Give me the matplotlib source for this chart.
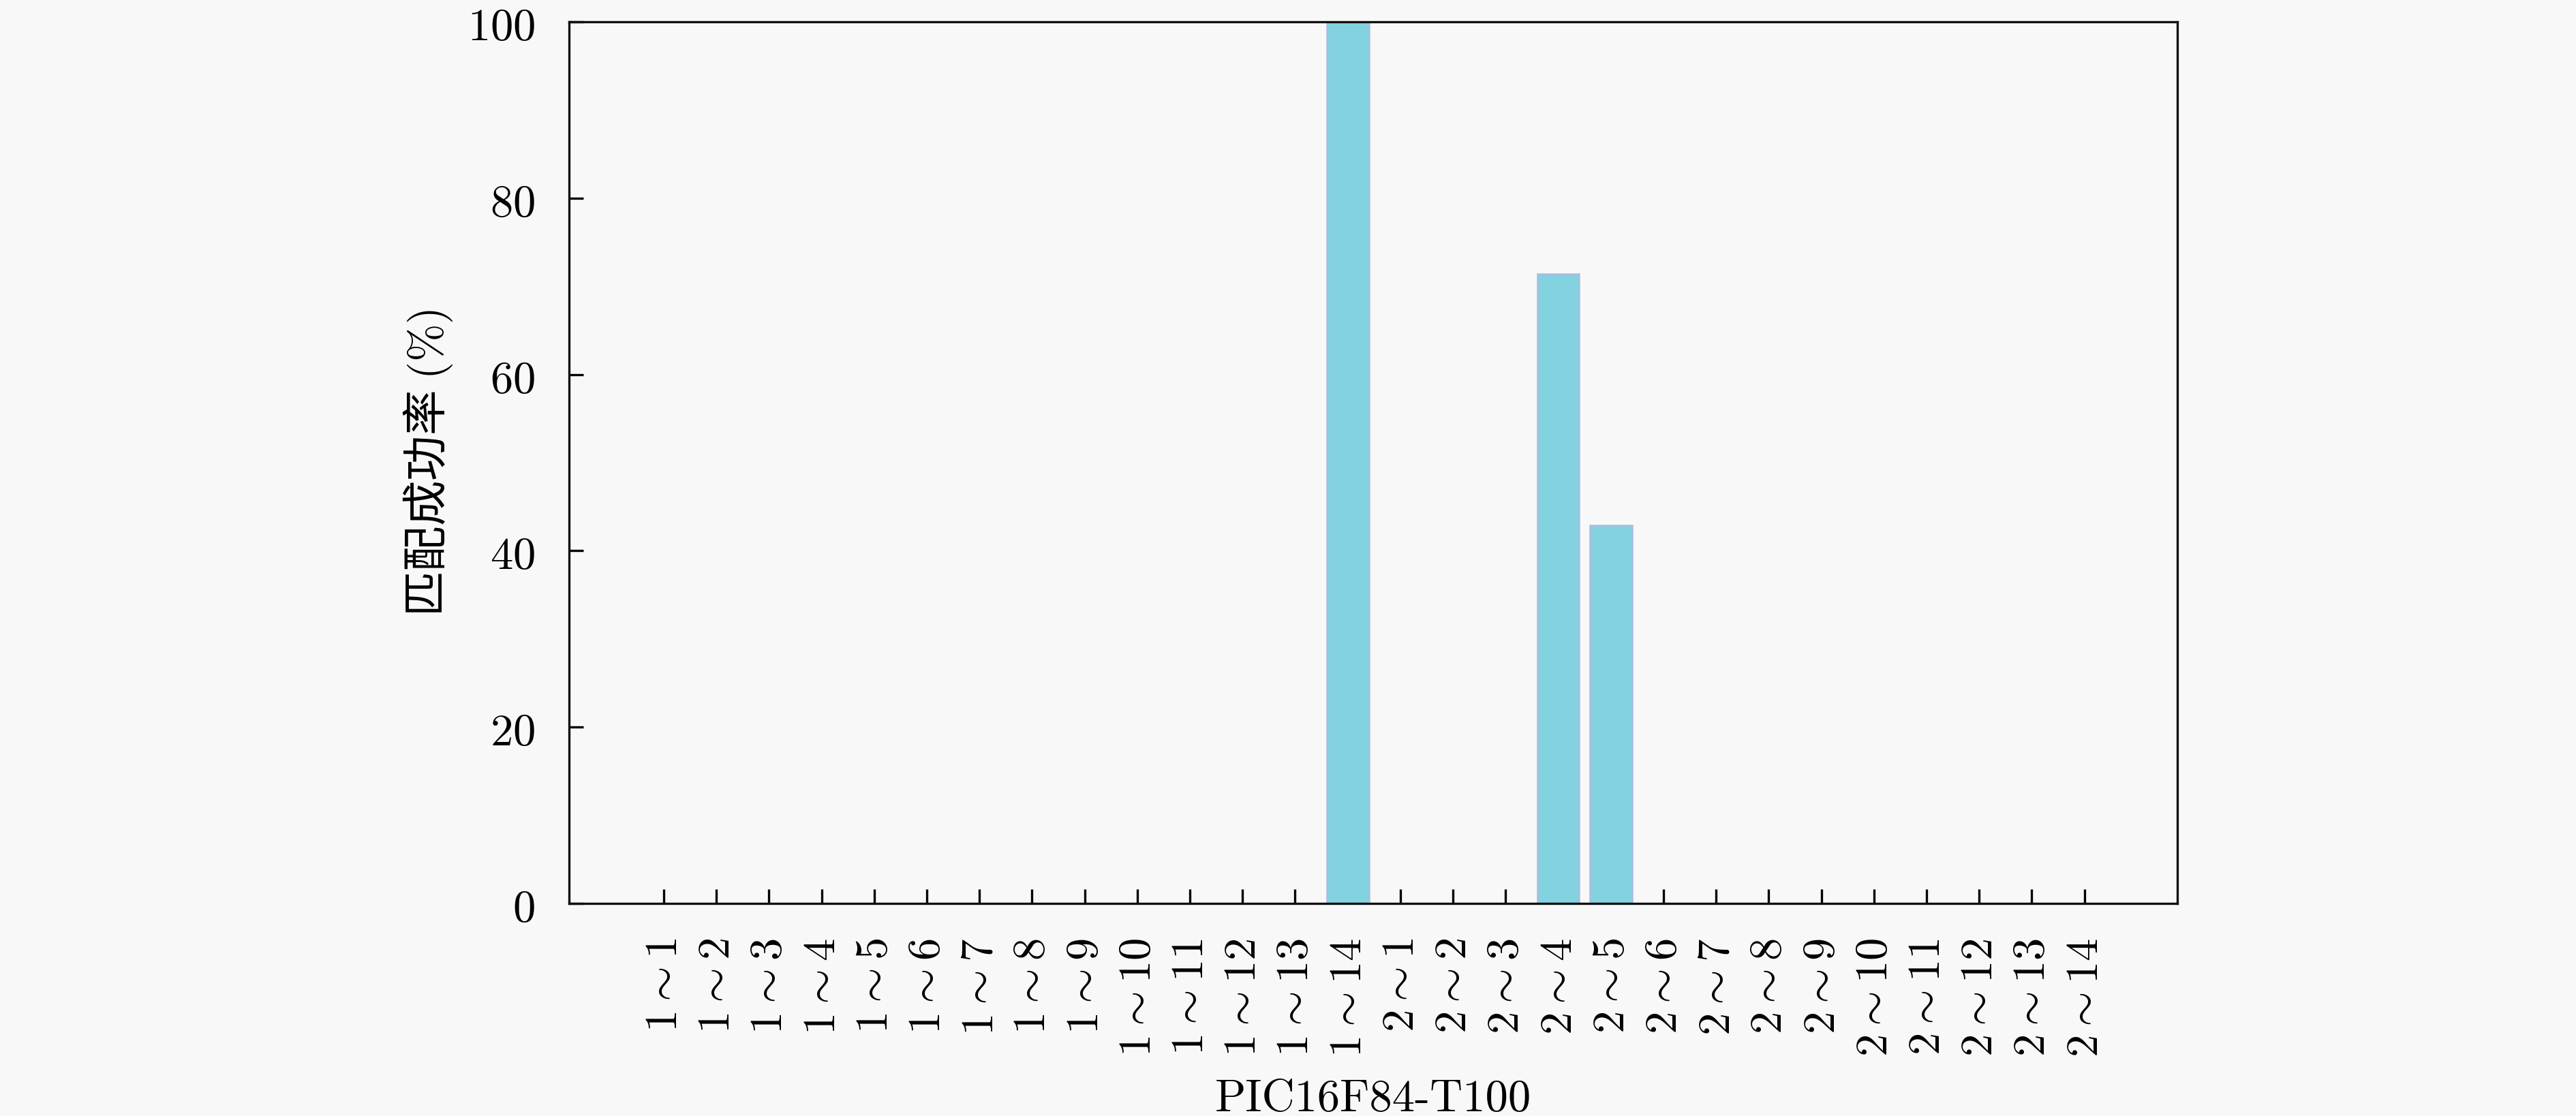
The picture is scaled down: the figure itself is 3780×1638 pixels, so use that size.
import matplotlib
matplotlib.use("Agg")
import matplotlib.pyplot as plt

# 数据
categorias = [f"{g}~{k}" for g in (1, 2) for k in range(1, 15)]
taxas = [0, 0, 0, 0, 0, 0, 0, 0, 0, 0, 0, 0, 0, 100,
         0, 0, 0, 71.4, 42.9, 0, 0, 0, 0, 0, 0, 0, 0, 0]
yticks = [0, 20, 40, 60, 80, 100]

plt.rcParams["mathtext.fontset"] = "cm"
plt.rcParams["axes.unicode_minus"] = False

fundo = "#f8f8f8"
fig = plt.figure(figsize=(12.6, 5.463), dpi=300, facecolor=fundo)
ax = fig.add_axes([0.2209, 0.1904, 0.8453 - 0.2209, 0.9799 - 0.1904])
ax.set_facecolor(fundo)

x = list(range(len(categorias)))
ax.bar(x, taxas, width=0.8, color="#83d2e0", edgecolor="#a9bde2", linewidth=0.6, zorder=2)

ax.set_xlim(-1.8, len(categorias) - 1 + 1.77)
ax.set_ylim(0, 100)

ax.set_xticks(x)
ax.set_xticklabels([r"$" + c.replace("~", r"\sim") + r"$" for c in categorias],
                   rotation=90, fontsize=16, va="top")
ax.set_yticks(yticks)
ax.set_yticklabels([f"${v}$" for v in yticks], fontsize=16)

ax.tick_params(direction="in", length=5, width=0.8, pad=12, top=False, right=False)
for s in ax.spines.values():
    s.set_linewidth(0.8)
    s.set_color("#111111")
    s.set_zorder(3)

ax.set_xlabel("PIC16F84-T100", fontsize=16, family="cmr10")
ax.xaxis.set_label_coords(0.5, -0.199)
ax.set_ylabel(r"匹配成功率 $(\%)$", fontsize=16, family=["Noto Sans CJK SC", "DejaVu Sans"])
ax.yaxis.set_label_coords(-0.071, 0.5)

fig.savefig("out.png", dpi=300, facecolor=fundo)
